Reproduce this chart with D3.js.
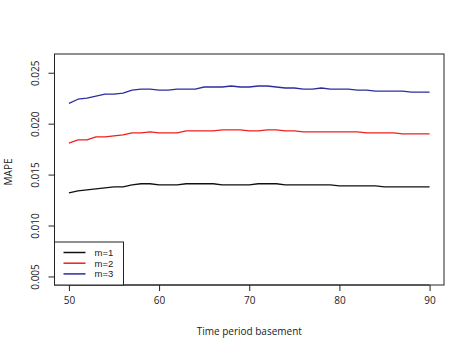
<!DOCTYPE html>
<html>
<head>
<meta charset="utf-8">
<script src="https://cdn.jsdelivr.net/npm/d3@7"></script>
<style>
body { margin:0; background:#fff; }
text { font-family: "Open Sans", sans-serif; fill:#222; }
</style>
</head>
<body>
<div id="chart"></div>
<script>
// time period basement values 50..90
var periods = d3.range(50, 91);
var seriesNames = ["m=1", "m=2", "m=3"];
var m1 = [0.0132,0.0134,0.0135,0.0136,0.0137,0.0138,0.0138,0.0140,0.0141,0.0141,
          0.0140,0.0140,0.0140,0.0141,0.0141,0.0141,0.0141,0.0140,0.0140,0.0140,
          0.0140,0.0141,0.0141,0.0141,0.0140,0.0140,0.0140,0.0140,0.0140,0.0140,
          0.0139,0.0139,0.0139,0.0139,0.0139,0.0138,0.0138,0.0138,0.0138,0.0138,0.0138];
var m2 = [0.0181,0.0184,0.0184,0.0187,0.0187,0.0188,0.0189,0.0191,0.0191,0.0192,
          0.0191,0.0191,0.0191,0.0193,0.0193,0.0193,0.0193,0.0194,0.0194,0.0194,
          0.0193,0.0193,0.0194,0.0194,0.0193,0.0193,0.0192,0.0192,0.0192,0.0192,
          0.0192,0.0192,0.0192,0.0191,0.0191,0.0191,0.0191,0.0190,0.0190,0.0190,0.0190];
var m3 = [0.0220,0.0224,0.0225,0.0227,0.0229,0.0229,0.0230,0.0233,0.0234,0.0234,
          0.0233,0.0233,0.0234,0.0234,0.0234,0.0236,0.0236,0.0236,0.0237,0.0236,
          0.0236,0.0237,0.0237,0.0236,0.0235,0.0235,0.0234,0.0234,0.0235,0.0234,
          0.0234,0.0234,0.0233,0.0233,0.0232,0.0232,0.0232,0.0232,0.0231,0.0231,0.0231];
var xTicks = [50, 60, 70, 80, 90];
var yTicks = [0.005, 0.010, 0.015, 0.020, 0.025];
var colors = ["#111111", "#ee2020", "#2a2f9c"];

var svgWidth = 472, svgHeight = 353;
var margin = {top:54, left:54.5, right:28, bottom:68};
var width = svgWidth - margin.left - margin.right;
var height = svgHeight - margin.top - margin.bottom;

var svg = d3.select("#chart").append("svg").attr("width",svgWidth).attr("height",svgHeight);
var chartGroup = svg.append("g").attr("transform",`translate(${margin.left},${margin.top})`);

// R style 4% padding
var xScale = d3.scaleLinear().domain([48.4, 91.6]).range([0,width]);
var yScale = d3.scaleLinear().domain([0.00416, 0.02684]).range([height,0]);

var bottomAxis = d3.axisBottom(xScale).tickValues(xTicks).tickSize(6).tickPadding(6).tickFormat(d3.format("d"));
var leftAxis = d3.axisLeft(yScale).tickValues(yTicks).tickSize(6).tickFormat(d3.format(".3f"));

var xg = chartGroup.append("g").attr("transform",`translate(0,${height})`).call(bottomAxis);
xg.select(".domain").remove();
xg.append("line").attr("x1",xScale(50)).attr("x2",xScale(90)).attr("stroke","#222");
xg.selectAll("text").attr("font-size","10px").attr("fill","#222").style("font-family","'Open Sans', sans-serif");
xg.selectAll(".tick line").attr("stroke","#222");

var yg = chartGroup.append("g").call(leftAxis);
yg.select(".domain").remove();
yg.append("line").attr("y1",yScale(0.005)).attr("y2",yScale(0.025)).attr("stroke","#222");
yg.selectAll(".tick line").attr("stroke","#222");
yg.selectAll(".tick text")
  .attr("font-size","10px").attr("fill","#222").style("font-family","'Open Sans', sans-serif")
  .attr("x",null).attr("dy",null)
  .attr("text-anchor","middle")
  .attr("transform","translate(-16,0) rotate(-90)");

chartGroup.append("rect").attr("width",width).attr("height",height)
  .attr("fill","none").attr("stroke","#222").attr("stroke-width",1);

var line = d3.line().x((d,i)=>xScale(periods[i])).y(d=>yScale(d));
[m1, m2, m3].forEach(function(s, i){
  chartGroup.append("path").attr("d",line(s)).attr("fill","none")
    .attr("stroke",colors[i]).attr("stroke-width",1.3).attr("stroke-linejoin","round");
});

// legend
var lg = chartGroup.append("g");
lg.append("rect").attr("x",0).attr("y",height-43).attr("width",69).attr("height",43)
  .attr("fill","#fff").attr("stroke","#222");
seriesNames.forEach(function(n, i){
  var yy = height - 32.5 + i*10.7;
  lg.append("line").attr("x1",9).attr("x2",31).attr("y1",yy).attr("y2",yy)
    .attr("stroke",colors[i]).attr("stroke-width",1.5);
  lg.append("text").attr("x",40).attr("y",yy).attr("dy","0.35em")
    .attr("font-size","9.5px").style("font-family","'Liberation Sans', sans-serif").text(n);
});

svg.append("text").attr("x",margin.left + xScale(70)).attr("y",335)
  .attr("text-anchor","middle").attr("font-size","10px").text("Time period basement");
svg.append("text").attr("transform","translate(12,172) rotate(-90)")
  .attr("text-anchor","middle").attr("font-size","10px").text("MAPE");
</script>
</body>
</html>
